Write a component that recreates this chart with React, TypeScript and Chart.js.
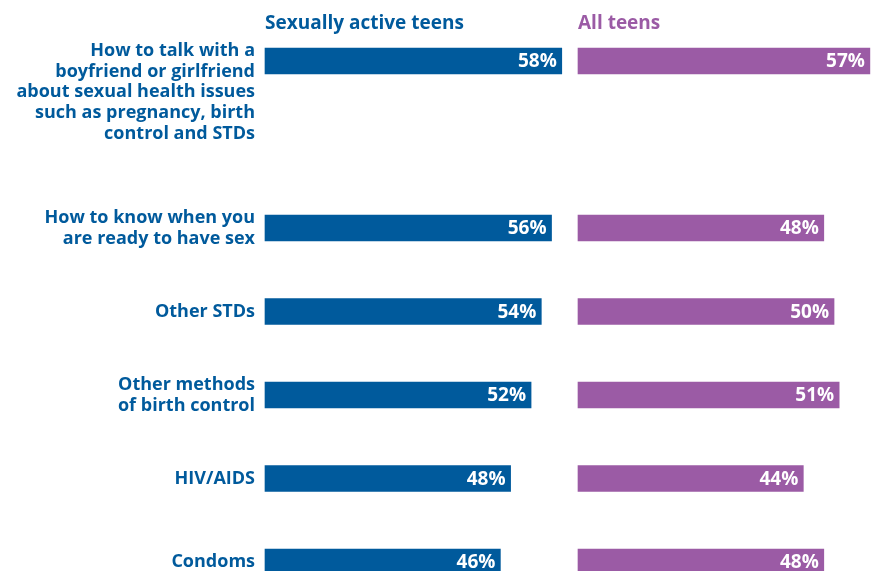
import React, { useEffect, useRef } from "react";
import { Chart, registerables } from "chart.js";

Chart.register(...registerables);

// ---- data ----
const categories: string[][] = [
  ["How to talk with a", "boyfriend or girlfriend", "about sexual health issues", "such as pregnancy, birth", "control and STDs"],
  ["How to know when you", "are ready to have sex"],
  ["Other STDs"],
  ["Other methods", "of birth control"],
  ["HIV/AIDS"],
  ["Condoms"],
];
const sexuallyActiveTeens = [58, 56, 54, 52, 48, 46];
const allTeens = [57, 48, 50, 51, 44, 48];
const seriesTitles = ["Sexually active teens", "All teens"];

const BLUE = "#005a9c";
const PURPLE = "#9b5ba5";
const FONT = "'Open Sans', Lato, sans-serif";

// axis rows: first (tall) label is top-aligned by leading blank lines, followed by a spacer row
function buildRows(): { labels: string[][]; index: number[] } {
  const labels: string[][] = [];
  const index: number[] = [];
  categories.forEach((c, i) => {
    if (i === 0) {
      labels.push(["", "", "", ...c]);
      index.push(i);
      labels.push([""]);
      index.push(-1);
    } else {
      labels.push(c);
      index.push(i);
    }
  });
  return { labels, index };
}

const valueLabels = {
  id: "valueLabels",
  afterDatasetsDraw(chart: any) {
    const ctx = chart.ctx;
    chart.data.datasets.forEach((ds: any, di: number) => {
      const meta = chart.getDatasetMeta(di);
      meta.data.forEach((bar: any, i: number) => {
        const v = ds.data[i];
        if (v == null) return;
        ctx.save();
        ctx.font = `bold 19px ${FONT}`;
        ctx.fillStyle = "#ffffff";
        ctx.textAlign = "right";
        ctx.textBaseline = "middle";
        ctx.fillText(`${v}%`, bar.x - 5, bar.y + 1);
        ctx.restore();
      });
    });
  },
};

function makeConfig(values: number[], color: string, title: string, showLabels: boolean, xMax: number, padLeft: number, padRight: number): any {
  const rows = buildRows();
  const data = rows.index.map((k) => (k < 0 ? null : values[k]));
  return {
    type: "bar",
    data: {
      labels: rows.labels,
      datasets: [
        {
          data,
          backgroundColor: color,
          borderWidth: 0,
          barThickness: 26,
          clip: false,
        },
      ],
    },
    options: {
      indexAxis: "y",
      animation: false,
      responsive: false,
      layout: { padding: { left: padLeft, right: padRight, top: 0, bottom: 9 } },
      plugins: {
        legend: { display: false },
        tooltip: { enabled: false },
        title: {
          display: true,
          text: title,
          align: "start",
          fullSize: false,
          color,
          font: { family: FONT, size: 19, weight: "bold", lineHeight: "24px" },
          padding: { top: 12, bottom: 25 },
        },
      },
      scales: {
        x: { display: false, min: 0, max: xMax },
        y: {
          display: showLabels,
          offset: false,
          grid: { display: false, drawTicks: false },
          border: { display: false },
          afterFit: (s: any) => {
            if (showLabels) s.width = 265;
            s.paddingTop = 0;
            s.paddingBottom = 0;
          },
          ticks: {
            autoSkip: false,
            color: BLUE,
            padding: 10,
            font: { family: FONT, size: 18, weight: "bold", lineHeight: "20.8px" },
          },
        },
      },
    },
    plugins: [valueLabels],
  };
}

export default function App() {
  const leftRef = useRef<HTMLCanvasElement>(null);
  const rightRef = useRef<HTMLCanvasElement>(null);
  useEffect(() => {
    const a = new Chart(leftRef.current!, makeConfig(sexuallyActiveTeens, BLUE, seriesTitles[0], true, 60, 0, 0));
    const b = new Chart(rightRef.current!, makeConfig(allTeens, PURPLE, seriesTitles[1], false, 58, 6, 3));
    return () => {
      a.destroy();
      b.destroy();
    };
  }, []);
  return (
    <div style={{ position: "absolute", left: 0, top: 0, width: 878, height: 571, background: "#fff", overflow: "hidden" }}>
      <canvas ref={leftRef} width={572} height={571} style={{ position: "absolute", left: 0, top: 0 }} />
      <canvas ref={rightRef} width={306} height={571} style={{ position: "absolute", left: 572, top: 0 }} />
    </div>
  );
}
